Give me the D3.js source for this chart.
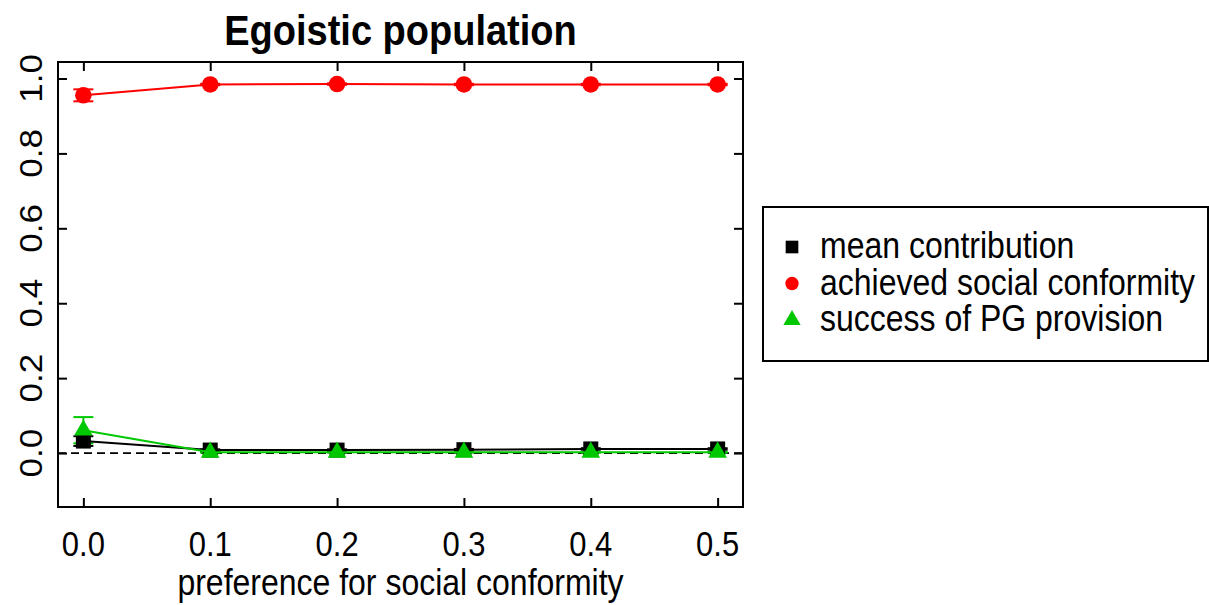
<!DOCTYPE html>
<html>
<head>
<meta charset="utf-8">
<script src="https://cdn.jsdelivr.net/npm/d3@7"></script>
<style>
  body { margin: 0; background: #fff; }
  text { font-family: "Liberation Sans", Arial, sans-serif; fill: #000; }
</style>
</head>
<body>
<div id="chart"></div>
<script>
// data
var prefs = [0.0, 0.1, 0.2, 0.3, 0.4, 0.5];
var xTicks = [0.0, 0.1, 0.2, 0.3, 0.4, 0.5];
var yTicks = [0.0, 0.2, 0.4, 0.6, 0.8, 1.0];

var contribution   = [0.032, 0.008, 0.008, 0.009, 0.011, 0.011];
var contributionSd = [0.013, 0.002, 0.002, 0.002, 0.002, 0.002];
var conformity     = [0.955, 0.984, 0.985, 0.984, 0.984, 0.984];
var conformitySd   = [0.016, 0.002, 0.002, 0.002, 0.002, 0.002];
var success        = [0.061, 0.002, 0.002, 0.002, 0.002, 0.002];
var successSd      = [0.035, 0.001, 0.001, 0.001, 0.001, 0.001];

var legendLabels = ["mean contribution", "achieved social conformity", "success of PG provision"];

var width = 1209, height = 605,
    stretch = 1.13,  // text in the figure is a bit taller than wide
    plotL = 58, plotR = 743, plotT = 62, plotB = 507,
    tickLen = 9,
    green = "#00c800", red = "#ff0000";

var x = d3.scaleLinear().domain([-0.02, 0.52]).range([plotL, plotR]);
var y = d3.scaleLinear().domain([-0.144, 1.044]).range([plotB, plotT]);

var svg = d3.select("#chart").append("svg")
    .attr("width", width)
    .attr("height", height);

function label(px, py, str, size, anchor, weight) {
  svg.append("g")
      .attr("transform", "translate(" + px + "," + py + ") scale(1," + stretch + ")")
    .append("text")
      .attr("text-anchor", anchor)
      .style("font-size", size + "px")
      .style("font-weight", weight || "normal")
      .text(str);
}

// title
label((plotL + plotR) / 2, 45, "Egoistic population", 38, "middle", "bold");

// zero reference line
svg.append("line")
    .attr("x1", plotL).attr("x2", plotR)
    .attr("y1", y(0)).attr("y2", y(0))
    .attr("stroke", "#000")
    .attr("stroke-width", 1.8)
    .attr("stroke-dasharray", "8,5");

// axes with inward ticks on all four sides
svg.append("g").attr("transform", "translate(0," + plotB + ")")
    .call(d3.axisBottom(x).tickValues(xTicks).tickSizeInner(-tickLen).tickSizeOuter(0).tickFormat(""));
svg.append("g").attr("transform", "translate(0," + plotT + ")")
    .call(d3.axisTop(x).tickValues(xTicks).tickSizeInner(-tickLen).tickSizeOuter(0).tickFormat(""));
svg.append("g").attr("transform", "translate(" + plotL + ",0)")
    .call(d3.axisLeft(y).tickValues(yTicks).tickSizeInner(-tickLen).tickSizeOuter(0).tickFormat(""));
svg.append("g").attr("transform", "translate(" + plotR + ",0)")
    .call(d3.axisRight(y).tickValues(yTicks).tickSizeInner(-tickLen).tickSizeOuter(0).tickFormat(""));
svg.selectAll(".domain").remove();
svg.selectAll(".tick line").attr("stroke", "#000").attr("stroke-width", 2);

svg.append("rect")
    .attr("x", plotL).attr("y", plotT)
    .attr("width", plotR - plotL).attr("height", plotB - plotT)
    .attr("fill", "none")
    .attr("stroke", "#000")
    .attr("stroke-width", 2);

// tick labels
xTicks.forEach(function(t) {
  label(x(t), 556, d3.format(".1f")(t), 31, "middle");
});
yTicks.forEach(function(t) {
  svg.append("g")
      .attr("transform", "translate(42," + y(t) + ") rotate(-90) scale(" + stretch + ",1)")
    .append("text")
      .attr("text-anchor", "middle")
      .style("font-size", "31px")
      .text(d3.format(".1f")(t));
});

label((plotL + plotR) / 2, 595, "preference for social conformity", 32, "middle");

// series
var line = d3.line()
    .x(function(d) { return x(d.p); })
    .y(function(d) { return y(d.v); });

function rows(vals, sds) {
  return prefs.map(function(p, i) { return {p: p, v: vals[i], sd: sds[i]}; });
}

function errorBars(data, color) {
  var g = svg.append("g").attr("stroke", color).attr("stroke-width", 2);
  data.forEach(function(d) {
    var cx = x(d.p), lo = y(d.v - d.sd), hi = y(d.v + d.sd);
    g.append("line").attr("x1", cx).attr("x2", cx).attr("y1", lo).attr("y2", hi);
    g.append("line").attr("x1", cx - 10).attr("x2", cx + 10).attr("y1", lo).attr("y2", lo);
    g.append("line").attr("x1", cx - 10).attr("x2", cx + 10).attr("y1", hi).attr("y2", hi);
  });
}

var blackData = rows(contribution, contributionSd),
    redData = rows(conformity, conformitySd),
    greenData = rows(success, successSd);

var squareSym = d3.symbol().type(d3.symbolSquare).size(225),
    circleSym = d3.symbol().type(d3.symbolCircle).size(215),
    triSym = d3.symbol().type(d3.symbolTriangle).size(150);

// green whiskers sit behind the black squares
errorBars(greenData, green);

[[blackData, "#000", squareSym], [redData, red, circleSym], [greenData, green, triSym]].forEach(function(s, k) {
  svg.append("path")
      .datum(s[0])
      .attr("fill", "none")
      .attr("stroke", s[1])
      .attr("stroke-width", 2)
      .attr("d", line);
  if (k < 2) errorBars(s[0], s[1]);
  svg.append("g").selectAll("path")
      .data(s[0])
    .enter().append("path")
      .attr("transform", function(d) { return "translate(" + x(d.p) + "," + y(d.v) + ")"; })
      .attr("fill", s[1])
      .attr("d", s[2]);
});

// legend
var legX = 763, legY = 207, legW = 445, legH = 154;
svg.append("rect")
    .attr("x", legX).attr("y", legY)
    .attr("width", legW).attr("height", legH)
    .attr("fill", "#fff")
    .attr("stroke", "#000")
    .attr("stroke-width", 2);

var legSyms = [d3.symbol().type(d3.symbolSquare).size(160),
               d3.symbol().type(d3.symbolCircle).size(140),
               d3.symbol().type(d3.symbolTriangle).size(130)];
var legColors = ["#000", red, green];
legendLabels.forEach(function(t, i) {
  var cy = 247 + i * 36.5;
  svg.append("path")
      .attr("transform", "translate(792," + cy + ")")
      .attr("fill", legColors[i])
      .attr("d", legSyms[i]);
  label(820, cy + 11, t, 32, "start");
});
</script>
</body>
</html>
